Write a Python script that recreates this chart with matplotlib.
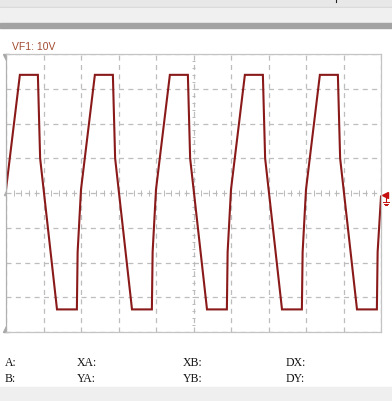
import matplotlib
matplotlib.use("Agg")
import matplotlib.pyplot as plt
import numpy as np
from matplotlib.patches import Rectangle

# trace: time in divisions, channel 1 in volts (10 V/div)
t_div = [0.0, 0.37, 0.85, 0.91, 1.36, 1.89, 1.91, 2.0,
         2.37, 2.85, 2.91, 3.36, 3.89, 3.91, 4.0,
         4.37, 4.85, 4.91, 5.36, 5.89, 5.91, 6.0,
         6.37, 6.85, 6.91, 7.36, 7.89, 7.91, 8.0,
         8.37, 8.85, 8.91, 9.36, 9.89, 9.91, 10.0]
volts = [1, 34, 34, 10, -33.5, -33.5, -17, 1,
         34, 34, 10, -33.5, -33.5, -17, 1,
         34, 34, 10, -33.5, -33.5, -17, 1,
         34, 34, 10, -33.5, -33.5, -17, 1,
         34, 34, 10, -33.5, -33.5, -17, -1]

channel_label = "VF1: 10V"
row1 = ["A:", "XA:", "XB:", "DX:"]
row2 = ["B:", "YA:", "YB:", "DY:"]
col_x = [5, 77, 183, 286]

W, H = 392, 402
fig = plt.figure(figsize=(W / 100, H / 100), dpi=100)

def box(x, y, w, h):
    return [x / W, 1 - (y + h) / H, w / W, h / H]

# window chrome in pixel coordinates
bg = fig.add_axes([0, 0, 1, 1])
bg.set_xlim(0, W)
bg.set_ylim(H, 0)
bg.axis("off")
bg.add_patch(Rectangle((0, 0), W, 8, color="#e8e8e8"))
bg.add_patch(Rectangle((0, 8), W, 1, color="#d6d6d6"))
bg.add_patch(Rectangle((0, 9), W, 15, color="#f0f0f0"))
bg.add_patch(Rectangle((0, 24), W, 5, color="#a3a3a3"))
bg.add_patch(Rectangle((0, 388), W, 14, color="#efefef"))
bg.plot([336, 336], [0, 3], color="#222222", lw=0.8)

bg.text(12, 47, channel_label, color="#a24a30", fontsize=7.5,
        family="Liberation Sans", va="center", ha="left")

for x, a, b in zip(col_x, row1, row2):
    bg.text(x, 366, a, fontsize=8.5, family="Liberation Serif", color="#111111", va="baseline")
    bg.text(x, 382, b, fontsize=8.5, family="Liberation Serif", color="#111111", va="baseline")

# scope screen
ax = fig.add_axes(box(6, 55, 375, 278))
ax.set_xlim(0, 10)
ax.set_ylim(-40, 40)
ax.set_xticks(range(11))
ax.set_yticks(range(-40, 41, 10))
ax.tick_params(length=0, labelleft=False, labelbottom=False)
ax.grid(color="#bdbdbd", linestyle=(0, (4, 3.5)), linewidth=0.9)
for s in ax.spines.values():
    s.set_color("#c4c4c4")
    s.set_linewidth(0.9)
ax.spines["left"].set_color("#b0b0b0")

# graticule ticks on the centre lines
minor = np.arange(0, 10.01, 0.2)
ax.vlines(minor, -1.0, 1.0, color="#b9b9b9", lw=0.7)
minor_y = np.arange(-40, 40.1, 2)
ax.hlines(minor_y, 4.95, 5.05, color="#b9b9b9", lw=0.7)

ax.plot(t_div, volts, color="#8a1a1a", lw=1.5, solid_joinstyle="miter")

# markers
bg.plot(6, 58, marker="v", color="#a8a8a8", ms=5)
bg.plot(6, 330, marker="^", color="#a8a8a8", ms=5)
bg.plot(6, 194, marker="^", color="#b0b0b0", ms=3)
bg.plot(385, 196, marker="<", color="#c41010", ms=5)
bg.plot([386, 386], [196, 203], color="#c41010", lw=0.8)
for i, hw in enumerate([3, 2, 1]):
    bg.plot([386 - hw, 386 + hw], [203 + 1.5 * i, 203 + 1.5 * i], color="#c41010", lw=0.7)

fig.savefig("out.png", dpi=100)
